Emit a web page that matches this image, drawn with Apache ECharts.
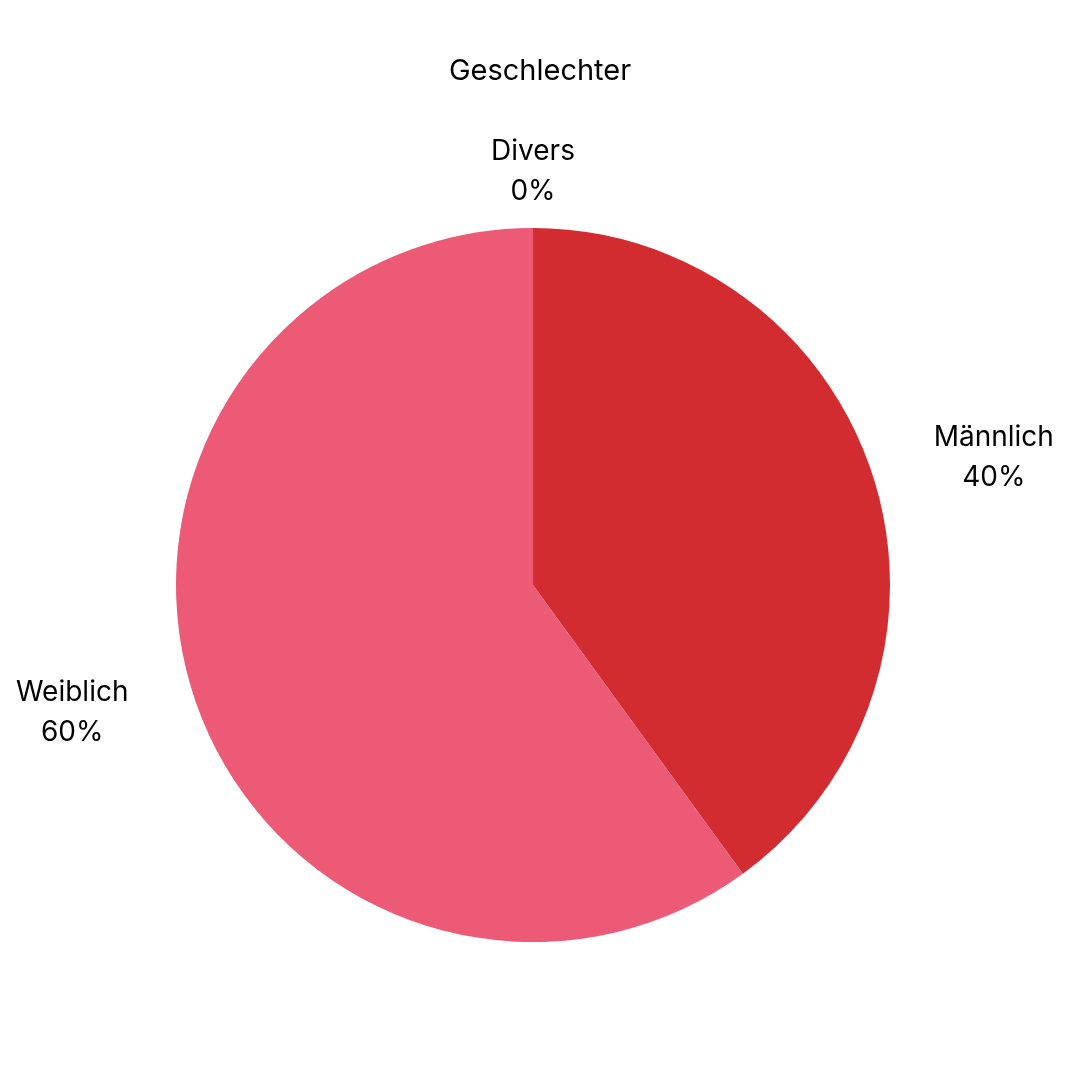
<!DOCTYPE html>
<html lang="de">
<head>
    <meta charset="UTF-8">
    <title>Geschlechter</title>
    <script src="https://cdn.jsdelivr.net/npm/echarts@6/dist/echarts.min.js"></script>
    <style>
        html, body { margin: 0; padding: 0; background: #fff; }
        #chart { width: 1080px; height: 1080px; }
    </style>
</head>
<body>
<div id="chart"></div>
<script type="text/javascript">
    // Daten
    var categories = ['Divers', 'Männlich', 'Weiblich'];
    var values = [0, 40, 60];
    var colors = ['#E0E0E0', '#D22B30', '#EC5A76'];

    var pieData = categories.map(function (name, i) {
        return { name: name, value: values[i], itemStyle: { color: colors[i] } };
    });

    var myChart = echarts.init(document.getElementById('chart'));
    var font = 'Inter, "Open Sans", sans-serif';

    var option = {
        backgroundColor: '#ffffff',
        animation: false,
        title: {
            text: 'Geschlechter',
            left: 'center',
            top: 52,
            textStyle: { fontFamily: font, fontSize: 29, fontWeight: 'normal', color: '#000' }
        },
        series: [{
            type: 'pie',
            center: [533, 585],
            radius: 357,
            startAngle: 90,
            clockwise: true,
            avoidLabelOverlap: false,
            data: pieData,
            label: {
                show: true,
                position: 'outside',
                distanceToLabelLine: 0,
                bleedMargin: 0,
                formatter: '{t|{b}}\n{t|{d}%}',
                rich: {
                    t: {
                        width: 136,
                        align: 'center',
                        fontFamily: font,
                        fontSize: 28,
                        lineHeight: 40,
                        color: '#000'
                    }
                }
            },
            labelLine: { show: false, length: 56, length2: 0 },
            labelLayout: function (params) {
                // Label oben mittig ausrichten
                if (params.dataIndex === 0) {
                    return { align: 'center' };
                }
            },
            emphasis: { disabled: true }
        }]
    };

    myChart.setOption(option);
</script>
</body>
</html>
